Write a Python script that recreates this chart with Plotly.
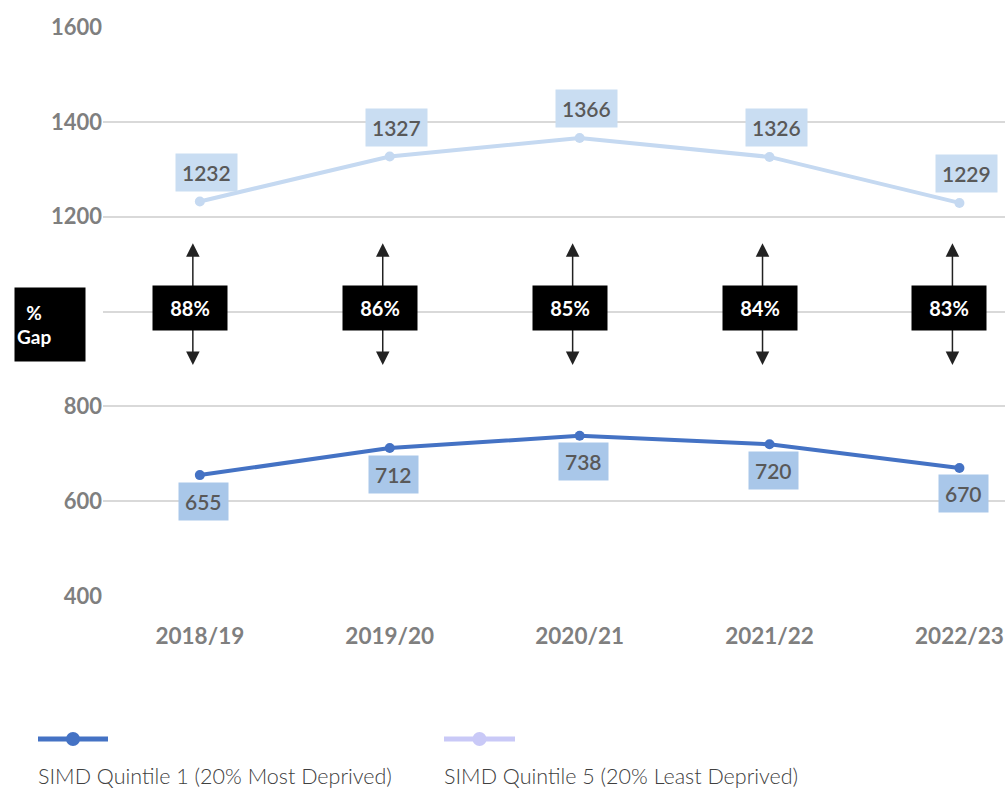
import plotly.graph_objects as go

years = ["2018/19", "2019/20", "2020/21", "2021/22", "2022/23"]
q1_values = [655, 712, 738, 720, 670]
q5_values = [1232, 1327, 1366, 1326, 1229]
gap_labels = ["88%", "86%", "85%", "84%", "83%"]
y_ticks = [400, 600, 800, 1000, 1200, 1400, 1600]
y_tick_text = ["400", "600", "800", "", "1200", "1400", "1600"]
q1_name = "SIMD Quintile 1 (20% Most Deprived)"
q5_name = "SIMD Quintile 5 (20% Least Deprived)"

W, H = 1005, 788
ML, MR, MT, MB = 103, 0, 27, 192
PW, PH = W - ML - MR, H - MT - MB

def px_x(p):
    return (p - ML) / PW

def px_y(p):
    return (H - MB - p) / PH

Q1_COLOR = "#4472C4"
Q5_COLOR = "#C5D9F1"
Q5_LEGEND = "#C9C9F7"
FONT = "Lato"

fig = go.Figure()
fig.add_trace(go.Scatter(x=years, y=q5_values, mode="lines+markers", name=q5_name,
                         line=dict(color=Q5_COLOR, width=4), marker=dict(size=10, color=Q5_COLOR),
                         showlegend=False))
fig.add_trace(go.Scatter(x=years, y=q1_values, mode="lines+markers", name=q1_name,
                         line=dict(color=Q1_COLOR, width=4), marker=dict(size=10, color=Q1_COLOR),
                         showlegend=False))

ann = []
for yr, v in zip(years, q5_values):
    ann.append(dict(x=yr, y=v, xref="x", yref="y", text=str(v), showarrow=False,
                    xshift=7, yshift=29, bgcolor="#C9DDF2", borderpad=6,
                    font=dict(family=FONT, size=21, color="#595959", weight=600)))
for yr, v in zip(years, q1_values):
    ann.append(dict(x=yr, y=v, xref="x", yref="y", text=str(v), showarrow=False,
                    xshift=4, yshift=-26, bgcolor="#A9C7E9", borderpad=6,
                    font=dict(family=FONT, size=21, color="#595959", weight=600)))

arrow_top, arrow_mid, arrow_bot = 1144, 1015, 887
for yr, g in zip(years, gap_labels):
    for head in (arrow_top, arrow_bot):
        ann.append(dict(x=yr, y=head, ax=yr, ay=arrow_mid, xref="x", yref="y",
                        axref="x", ayref="y", text="", showarrow=True,
                        arrowhead=2, arrowsize=1.8, arrowwidth=1.5, arrowcolor="#222222",
                        xshift=-7))
    ann.append(dict(x=yr, y=1007, xref="x", yref="y", text="<b>%s</b>" % g, showarrow=False,
                    xshift=-10, bgcolor="black", width=70, height=40, borderpad=2,
                    font=dict(family=FONT, size=20, color="white")))

ann.append(dict(x=px_x(50), y=px_y(324), xref="paper", yref="paper",
                xanchor="center", yanchor="middle",
                text="<b>&nbsp;&nbsp;%<br>Gap</b>", showarrow=False, align="left",
                bgcolor="black", width=66, height=69, borderpad=2,
                font=dict(family=FONT, size=19, color="white")))

shapes = []
for x0, x1, col, txt in [(38, 108, Q1_COLOR, q1_name), (444, 515, Q5_LEGEND, q5_name)]:
    shapes.append(dict(type="line", xref="paper", yref="paper",
                       x0=px_x(x0), x1=px_x(x1), y0=px_y(739), y1=px_y(739),
                       line=dict(color=col, width=5)))
    cx = (x0 + x1) / 2
    shapes.append(dict(type="circle", xref="paper", yref="paper",
                       x0=px_x(cx - 7), x1=px_x(cx + 7), y0=px_y(739 + 7), y1=px_y(739 - 7),
                       fillcolor=col, line=dict(color=col, width=0)))
    ann.append(dict(x=px_x(x0 - 2), y=px_y(776), xref="paper", yref="paper", text=txt,
                    showarrow=False, xanchor="left", yanchor="middle",
                    font=dict(family=FONT, size=21.5, color="#404040", weight=300)))

fig.update_layout(
    width=W, height=H,
    margin=dict(l=ML, r=MR, t=MT, b=MB),
    plot_bgcolor="white", paper_bgcolor="white",
    annotations=ann, shapes=shapes,
    xaxis=dict(range=[-0.51, 4.24], showgrid=False, showline=False, zeroline=False,
               ticks="outside", ticklen=20, tickcolor="rgba(0,0,0,0)",
               tickfont=dict(family=FONT, size=22.5, color="#7F7F7F", weight="bold")),
    yaxis=dict(range=[400, 1600], tickvals=y_ticks, ticktext=y_tick_text,
               showgrid=True, gridcolor="#D9D9D9", gridwidth=1.5,
               showline=False, zeroline=False,
               tickfont=dict(family=FONT, size=22, color="#7F7F7F", weight="bold")),
)

fig.write_html("out.html", config={"displayModeBar": False},
               post_script="document.body.style.margin='0';document.body.style.overflow='hidden';")
